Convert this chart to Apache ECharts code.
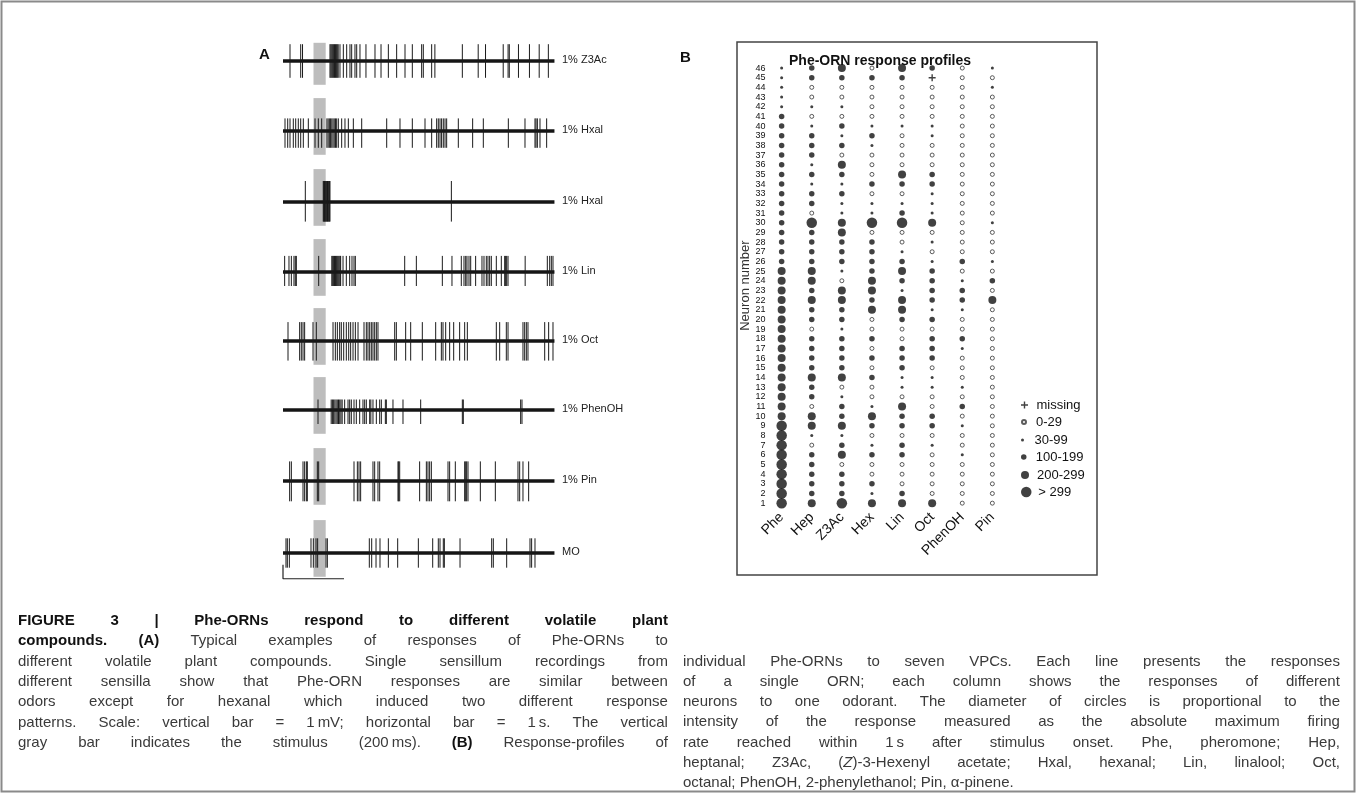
<!DOCTYPE html>
<html><head><meta charset="utf-8">
<script src="https://cdn.jsdelivr.net/npm/echarts@6/dist/echarts.min.js"></script>
<style>
html,body{margin:0;padding:0;background:#fff;}
#chart{position:absolute;left:0;top:0;width:1357px;height:794px;}
.cap{position:absolute;font-family:'Liberation Sans',Arial,sans-serif;font-size:15px;color:#3a3a3a;}
.ln{position:absolute;display:flex;justify-content:space-between;white-space:nowrap;height:20px;line-height:20px;}
.ln.last{justify-content:flex-start;}
.ln.last span{margin-right:0.28em;}
.b{font-weight:bold;color:#111;}
</style></head>
<body>
<div id="chart"></div>
<div id="capL" class="cap"></div>
<div id="capR" class="cap"></div>
<script>
// ---------------- Panel B data ----------------
const odorants = ['Phe','Hep','Z3Ac','Hex','Lin','Oct','PhenOH','Pin'];
const neurons = ['1','2','3','4','5','6','7','8','9','10','11','12','13','14','15','16','17','18','19','20','21','22','23','24','25','26','27','28','29','30','31','32','33','34','35','36','37','38','39','40','41','42','43','44','45','46'];
const classNames = ['missing','0-29','30-99','100-199','200-299','> 299'];
// response class per neuron (1..46): 0 missing, 1 0-29, 2 30-99, 3 100-199, 4 200-299, 5 >299
const respPhe    = [5,5,5,5,5,5,5,5,5,4,4,4,4,4,4,4,4,4,4,4,4,4,4,4,4,3,3,3,3,3,3,3,3,3,3,3,3,3,3,3,3,2,2,2,2,2];
const respHep    = [4,3,3,3,3,3,1,2,4,4,1,3,3,4,3,3,3,3,1,3,3,4,3,4,4,3,3,3,3,5,1,3,3,2,3,2,3,3,3,2,1,2,1,1,3,3];
const respZ3Ac   = [5,3,3,3,1,4,3,2,4,3,3,2,1,4,3,3,3,3,2,3,3,4,4,1,2,3,3,3,4,4,2,2,3,2,3,4,1,3,2,3,1,2,1,1,3,4];
const respHex    = [4,2,3,1,1,3,2,1,3,4,2,1,1,3,1,3,1,3,1,1,4,3,4,4,3,3,3,3,1,5,2,2,1,3,1,1,1,2,3,2,1,1,1,1,3,1];
const respLin    = [4,3,1,1,1,3,3,1,3,3,4,1,2,2,3,3,3,1,1,3,4,4,2,3,4,3,2,1,1,5,3,2,1,3,4,1,1,1,1,2,1,1,1,1,3,4];
const respOct    = [4,1,1,1,1,1,2,1,3,3,1,1,2,2,1,3,3,3,1,3,2,3,3,3,3,2,1,2,1,4,2,2,2,3,3,1,1,1,2,2,1,1,1,1,0,3];
const respPhenOH = [1,1,1,1,1,2,1,1,2,1,3,1,2,1,1,1,2,3,1,1,2,3,3,2,1,3,1,1,1,1,1,1,1,1,1,1,1,1,1,1,1,1,1,1,1,1];
const respPin    = [1,1,1,1,1,1,1,1,1,1,1,1,1,1,1,1,1,1,1,1,1,4,1,3,1,2,1,1,1,2,1,1,1,1,1,1,1,1,1,1,1,1,1,2,1,2];

// ---------------- Panel A data (spike times in s, amplitudes in mV) ----------------
const traceLabels = ['1% Z3Ac','1% Hxal','1% Hxal','1% Lin','1% Oct','1% PhenOH','1% Pin','MO'];
const stimulus = [0.5, 0.7];
const recordEnd = 4.45;
const spikes1 = [0.115,0.29,0.32,0.77,0.785,0.80,0.815,0.83,0.845,0.86,0.875,0.89,0.905,0.934,0.989,1.044,1.098,1.126,1.18,1.208,1.262,1.36,1.508,1.607,1.727,1.863,2.0,2.12,2.273,2.30,2.437,2.49,2.94,3.20,3.32,3.61,3.69,3.71,3.86,4.04,4.20,4.35];
const spikes2 = [0.033,0.077,0.115,0.169,0.208,0.251,0.29,0.333,0.415,0.525,0.579,0.634,0.72,0.74,0.76,0.78,0.80,0.82,0.84,0.86,0.88,0.907,0.962,1.016,1.071,1.153,1.29,1.70,1.918,2.12,2.328,2.437,2.519,2.546,2.574,2.60,2.628,2.656,2.683,2.874,3.109,3.284,3.694,3.967,4.131,4.148,4.17,4.213,4.322];
const spikes3 = [0.366,0.66,0.67,0.68,0.69,0.70,0.71,0.72,0.73,0.74,0.75,0.76,0.77,2.76];
const spikes4 = [0.027,0.098,0.137,0.18,0.202,0.219,0.585,0.80,0.815,0.83,0.845,0.86,0.875,0.89,0.905,0.92,0.935,0.945,0.984,1.038,1.093,1.131,1.164,1.186,1.995,2.186,2.612,2.77,2.923,2.967,2.995,3.016,3.049,3.077,3.158,3.262,3.295,3.333,3.36,3.388,3.415,3.497,3.579,3.634,3.65,3.667,3.689,3.97,4.333,4.372,4.399,4.426];
const spikes5 = [0.082,0.273,0.30,0.328,0.355,0.492,0.546,0.82,0.858,0.891,0.929,0.956,0.995,1.038,1.077,1.109,1.148,1.186,1.23,1.328,1.366,1.393,1.421,1.448,1.475,1.503,1.53,1.557,1.831,1.858,2.011,2.093,2.284,2.503,2.596,2.623,2.667,2.732,2.798,2.896,2.978,3.022,3.497,3.552,3.661,3.689,3.934,3.962,3.989,4.016,4.29,4.355,4.426];
const spikes6 = [0.574,0.79,0.81,0.83,0.85,0.87,0.89,0.91,0.93,0.95,0.97,1.011,1.066,1.093,1.12,1.164,1.202,1.257,1.311,1.339,1.366,1.421,1.44,1.475,1.53,1.585,1.612,1.678,1.694,1.803,1.967,2.257,2.94,2.956,3.896,3.918];
const spikes7 = [0.109,0.137,0.328,0.355,0.383,0.399,0.563,0.585,1.164,1.219,1.246,1.273,1.475,1.503,1.557,1.585,1.885,1.896,1.913,2.24,2.35,2.377,2.404,2.432,2.705,2.732,2.825,2.978,2.995,3.011,3.033,3.235,3.481,3.852,3.88,3.934,4.027];
const spikes8 = [0.049,0.071,0.104,0.459,0.497,0.541,0.568,0.705,0.727,1.415,1.454,1.525,1.59,1.727,1.88,2.219,2.454,2.546,2.574,2.628,2.645,2.902,3.421,3.448,3.667,4.049,4.076,4.131];
const spikeUp   = [1.2,0.9,1.5,1.15,1.35,0.75,1.4,1.05];
const spikeDown = [1.2,1.2,1.4,1.0,1.4,1.0,1.45,1.05];
const scaleBar = {mV: 1, s: 1};

// ---------------- Caption ----------------
const captionLeft = [
 '*FIGURE *3 *| *Phe-ORNs *respond *to *different *volatile *plant',
 '*compounds. *(A) Typical examples of responses of Phe-ORNs to',
 'different volatile plant compounds. Single sensillum recordings from',
 'different sensilla show that Phe-ORN responses are similar between',
 'odors except for hexanal which induced two different response',
 'patterns. Scale: vertical bar = 1\u202FmV; horizontal bar = 1\u202Fs. The vertical',
 'gray bar indicates the stimulus (200\u202Fms). *(B) Response-profiles of'
];
const captionRight = [
 'individual Phe-ORNs to seven VPCs. Each line presents the responses',
 'of a single ORN; each column shows the responses of different',
 'neurons to one odorant. The diameter of circles is proportional to the',
 'intensity of the response measured as the absolute maximum firing',
 'rate reached within 1\u202Fs after stimulus onset. Phe, pheromone; Hep,',
 'heptanal; Z3Ac, (Z)-3-Hexenyl acetate; Hxal, hexanal; Lin, linalool; Oct,',
 'octanal; PhenOH, 2-phenylethanol; Pin, \u03b1-pinene.'
];
const capLineStep = 20.3;

function buildCaption(el, lines, x, y0, width, lastJust) {
  el.style.left = x + 'px'; el.style.top = y0 + 'px';
  lines.forEach((s, i) => {
    const d = document.createElement('div');
    d.className = 'ln' + ((i === lines.length - 1 && !lastJust) ? ' last' : '');
    d.style.top = (i * capLineStep) + 'px';
    d.style.width = width + 'px';
    s.split(' ').forEach(w => {
      const sp = document.createElement('span');
      if (w[0] === '*') { sp.className = 'b'; w = w.slice(1); }
      if (w.indexOf('(Z)') >= 0) { sp.innerHTML = w.replace('(Z)', '(<i>Z</i>)'); }
      else sp.textContent = w;
      d.appendChild(sp);
    });
    el.appendChild(d);
  });
}
buildCaption(document.getElementById('capL'), captionLeft, 18, 610, 650, true);
buildCaption(document.getElementById('capR'), captionRight, 683, 650.6, 657, false);

// ---------------- Chart ----------------
const chart = echarts.init(document.getElementById('chart'), null, {renderer: 'canvas'});
const allSpikes = [spikes1, spikes2, spikes3, spikes4, spikes5, spikes6, spikes7, spikes8];
const baselines = [61, 131, 202, 272, 341, 410, 481, 553];
const pxPerMV = 14;
const traceLeft = 283, pxPerS = 61;

const grids = [], xAxes = [], yAxes = [], series = [];
allSpikes.forEach((sp, i) => {
  grids.push({left: traceLeft, width: recordEnd * pxPerS, top: baselines[i] - 2.5 * pxPerMV, height: 5 * pxPerMV});
  xAxes.push({type: 'value', gridIndex: i, min: 0, max: recordEnd, show: false});
  yAxes.push({type: 'value', gridIndex: i, min: -2.5, max: 2.5, show: false});
  const stimTop = i === 0 ? 1.3 : 2.35;
  series.push({
    type: 'custom', xAxisIndex: i, yAxisIndex: i, z: 1, silent: true,
    data: [[stimulus[0], stimTop, stimulus[1], -1.7]],
    renderItem: (p, api) => {
      const a = api.coord([api.value(0), api.value(1)]);
      const b = api.coord([api.value(2), api.value(3)]);
      return {type: 'rect', shape: {x: a[0], y: a[1], width: b[0] - a[0], height: b[1] - a[1]}, style: {fill: '#bdbdbd'}};
    }
  });
  series.push({
    type: 'line', xAxisIndex: i, yAxisIndex: i, z: 2, silent: true, symbol: 'none',
    data: [[0, 0], [recordEnd, 0]],
    lineStyle: {color: '#151515', width: 3.6}
  });
  series.push({
    type: 'custom', xAxisIndex: i, yAxisIndex: i, z: 3, silent: true,
    data: sp.map(t => [t, spikeUp[i], spikeDown[i]]),
    renderItem: (p, api) => {
      const a = api.coord([api.value(0), api.value(1)]);
      const b = api.coord([api.value(0), -api.value(2)]);
      return {type: 'line', shape: {x1: a[0], y1: a[1], x2: b[0], y2: b[1]}, style: {stroke: '#1a1a1a', lineWidth: 1}};
    }
  });
});
// scale bar in last trace's grid
series.push({
  type: 'line', xAxisIndex: 7, yAxisIndex: 7, z: 3, silent: true, symbol: 'none',
  data: [[0, -0.84], [0, -0.84 - scaleBar.mV], [scaleBar.s, -0.84 - scaleBar.mV]],
  lineStyle: {color: '#222', width: 1.2}
});

// Panel B grid
const gB = grids.length;
grids.push({left: 766.6, width: 240.8, top: 63.2, height: 444.8});
xAxes.push({
  type: 'category', gridIndex: gB, data: odorants,
  axisLine: {show: false}, axisTick: {show: false},
  axisLabel: {rotate: 45, fontSize: 14, color: '#111', margin: 7, interval: 0, fontFamily: 'Liberation Sans'}
});
yAxes.push({
  type: 'category', gridIndex: gB, data: neurons,
  axisLine: {show: false}, axisTick: {show: false},
  axisLabel: {fontSize: 9, color: '#111', margin: 1, interval: 0, fontFamily: 'Liberation Sans'},
  name: 'Neuron number', nameLocation: 'middle', nameGap: 15, nameRotate: 90,
  nameTextStyle: {fontSize: 13, color: '#333', fontFamily: 'Liberation Sans'}
});
const respAll = [respPhe, respHep, respZ3Ac, respHex, respLin, respOct, respPhenOH, respPin];
const plusPath = 'path://M4,0H6V4H10V6H6V10H4V6H0V4H4Z';
const classStyle = [
  {symbol: plusPath, size: 7, item: {color: '#111'}},
  {symbol: 'circle', size: 4, item: {color: '#fff', borderColor: '#333', borderWidth: 1}},
  {symbol: 'circle', size: 3, item: {color: '#111'}},
  {symbol: 'circle', size: 5.5, item: {color: '#111'}},
  {symbol: 'circle', size: 8, item: {color: '#111'}},
  {symbol: 'circle', size: 10.5, item: {color: '#111'}}
];
classNames.forEach((name, c) => {
  const pts = [];
  respAll.forEach((col, j) => col.forEach((v, k) => { if (v === c) pts.push([j, k]); }));
  series.push({
    name: name, type: 'scatter', xAxisIndex: gB, yAxisIndex: gB, silent: true,
    symbol: classStyle[c].symbol, symbolSize: classStyle[c].size,
    itemStyle: classStyle[c].item, data: pts
  });
});
const legendCenters = [405, 422, 440, 457, 475, 492];
const legends = classNames.map((name, c) => ({
  data: [name], orient: 'vertical', selectedMode: false,
  left: 1021, top: legendCenters[c] - 8, padding: 0,
  itemWidth: 14, itemHeight: classStyle[c].size,
  textStyle: {fontSize: 13, color: '#111', fontFamily: 'Liberation Sans', lineHeight: 16}
}));

chart.setOption({
  animation: false,
  grid: grids, xAxis: xAxes, yAxis: yAxes, series: series, legend: legends,
  title: [{text: 'Phe-ORN response profiles', left: 784, top: 49,
    textStyle: {fontSize: 14, fontWeight: 'bold', color: '#111', fontFamily: 'Liberation Sans'}}],
  graphic: [
    {type: 'rect', shape: {x: 1.5, y: 1.5, width: 1353, height: 790}, style: {fill: 'none', stroke: '#8a8a8a', lineWidth: 2}},
    {type: 'rect', shape: {x: 737, y: 42, width: 360, height: 533}, style: {fill: 'none', stroke: '#444', lineWidth: 1.5}},
    {type: 'text', left: 259, top: 47, style: {text: 'A', fontSize: 15, fontWeight: 'bold', fill: '#111', fontFamily: 'Liberation Sans'}},
    {type: 'text', left: 680, top: 50, style: {text: 'B', fontSize: 15, fontWeight: 'bold', fill: '#111', fontFamily: 'Liberation Sans'}}
  ].concat(traceLabels.map((t, i) => ({
    type: 'text', left: 562, top: baselines[i] - 7,
    style: {text: t, fontSize: 11, fill: '#222', fontFamily: 'Liberation Sans'}
  })))
});
</script>
</body></html>
